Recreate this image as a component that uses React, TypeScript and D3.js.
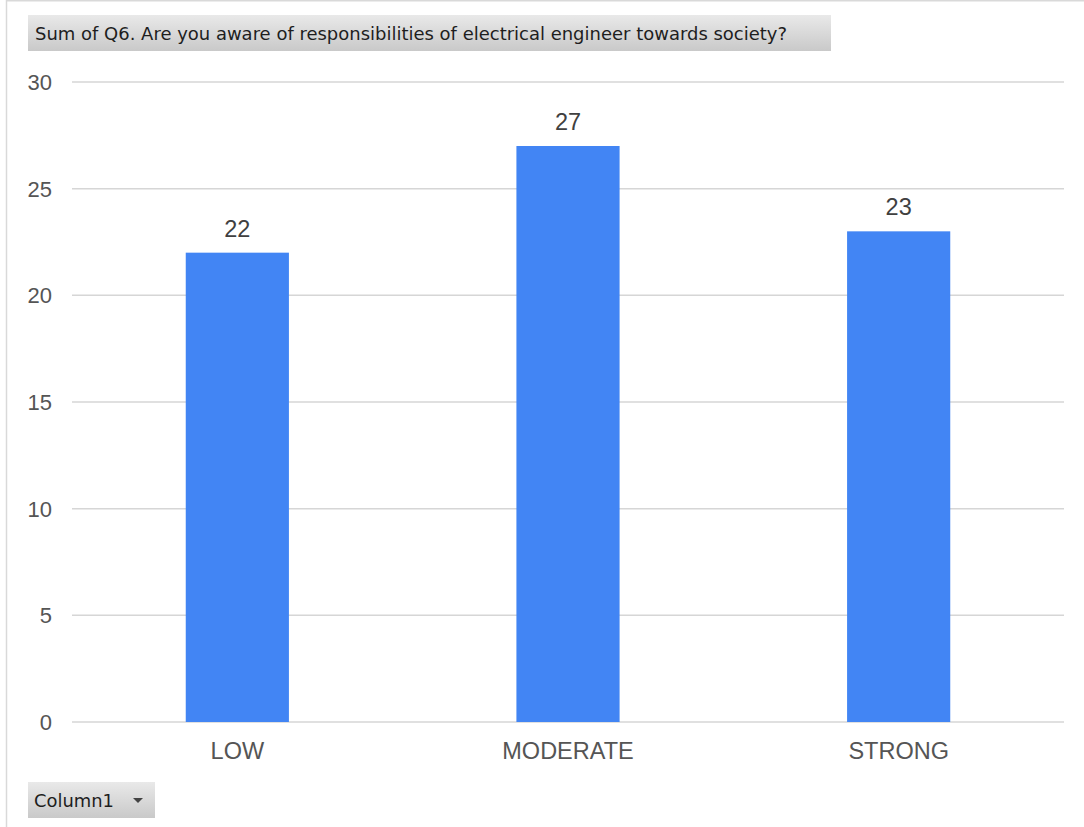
import React from "react";
import * as d3 from "d3";

const categories: string[] = ["LOW", "MODERATE", "STRONG"];
const values: number[] = [22, 27, 23];
const yTicks: number[] = [0, 5, 10, 15, 20, 25, 30];
const titleText = "Sum of Q6. Are you aware of responsibilities of electrical engineer towards society?";
const filterLabel = "Column1";

const W = 1084;
const H = 827;
const plotLeft = 72;
const plotRight = 1064;
const plotTop = 82;
const plotBottom = 722;

export default function App() {
  const x = d3.scaleBand<string>().domain(categories).range([plotLeft, plotRight]).padding(0);
  const y = d3.scaleLinear().domain([0, 30]).range([plotBottom, plotTop]);
  const barW = x.bandwidth() * 0.312;
  const axisFont = "'Liberation Sans', Arial, sans-serif";
  const uiFont = "Tahoma, 'DejaVu Sans', 'Noto Sans', sans-serif";

  return (
    <svg
      width={W}
      height={H}
      style={{ position: "absolute", left: 0, top: 0, background: "#fff" }}
    >
      <defs>
        <linearGradient id="btnGrad" x1="0" y1="0" x2="0" y2="1">
          <stop offset="0%" stopColor="#e9e9e9" />
          <stop offset="100%" stopColor="#c9c9c9" />
        </linearGradient>
      </defs>
      {/* frame */}
      <line x1={6.5} y1={0} x2={6.5} y2={H} stroke="#d9d9d9" strokeWidth={1.5} />
      <line x1={6} y1={0.75} x2={W} y2={0.75} stroke="#d9d9d9" strokeWidth={1.5} />

      {/* title box */}
      <rect x={28} y={15} width={803} height={36} fill="url(#btnGrad)" />
      <text
        x={35}
        y={40}
        fontFamily={uiFont}
        fontSize={18.5}
        fill="#1e1e1e"
        textLength={752}
        lengthAdjust="spacingAndGlyphs"
      >
        {titleText}
      </text>

      {/* gridlines + y labels */}
      {yTicks.map((t) => (
        <g key={t}>
          <line
            x1={plotLeft}
            x2={plotRight}
            y1={y(t)}
            y2={y(t)}
            stroke="#d6d6d6"
            strokeWidth={1.5}
          />
          <text
            x={52}
            y={y(t) + 8}
            textAnchor="end"
            fontFamily={axisFont}
            fontSize={22}
            fill="#555"
          >
            {t}
          </text>
        </g>
      ))}

      {/* bars */}
      {categories.map((c, i) => {
        const cx = (x(c) as number) + x.bandwidth() / 2;
        return (
          <g key={c}>
            <rect
              x={cx - barW / 2}
              y={y(values[i])}
              width={barW}
              height={y(0) - y(values[i])}
              fill="#4285f4"
            />
            <text
              x={cx}
              y={y(values[i]) - 16}
              textAnchor="middle"
              fontFamily={axisFont}
              fontSize={23.5}
              fill="#404040"
            >
              {values[i]}
            </text>
            <text
              x={cx}
              y={759}
              textAnchor="middle"
              fontFamily={axisFont}
              fontSize={23.5}
              fill="#555"
            >
              {c}
            </text>
          </g>
        );
      })}

      {/* filter button */}
      <rect x={28} y={782} width={127} height={36} fill="url(#btnGrad)" />
      <text x={34} y={807} fontFamily={uiFont} fontSize={18.5} fill="#1e1e1e" textLength={80} lengthAdjust="spacingAndGlyphs">
        {filterLabel}
      </text>
      <path d="M133,798 L143,798 L138,803 Z" fill="#444" />
    </svg>
  );
}
